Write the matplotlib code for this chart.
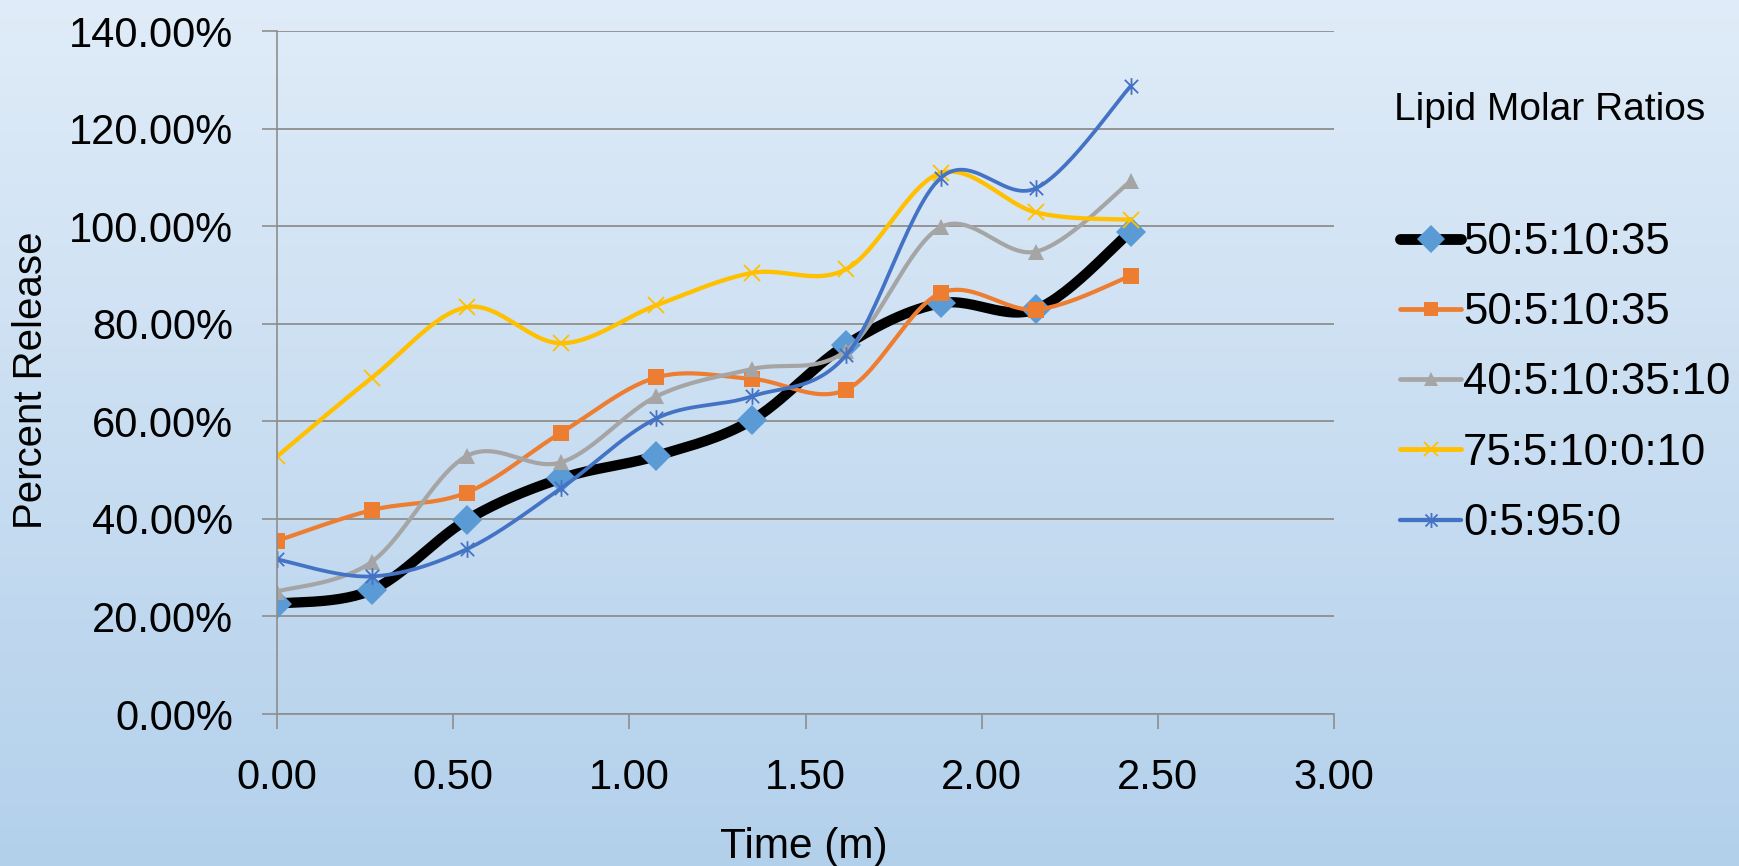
import numpy as np
import matplotlib
matplotlib.use('Agg')
import matplotlib.pyplot as plt
from matplotlib.lines import Line2D
from matplotlib.path import Path

# release data, percent of total vs. time in minutes
time_m = [0.0, 0.269, 0.539, 0.807, 1.077, 1.347, 1.616, 1.884, 2.155, 2.423]
series_labels = ['50:5:10:35', '50:5:10:35', '40:5:10:35:10', '75:5:10:0:10', '0:5:95:0']
release_a = [22.6, 25.4, 39.8, 48.3, 52.9, 60.2, 75.7, 84.2, 83.0, 98.9]
release_b = [35.5, 41.8, 45.4, 57.7, 69.0, 68.7, 66.5, 86.3, 82.9, 89.8]
release_c = [25.1, 31.2, 52.9, 51.6, 65.1, 70.7, 74.5, 99.8, 94.8, 109.2]
release_d = [52.8, 68.9, 83.4, 76.0, 83.8, 90.4, 91.2, 110.9, 102.8, 101.3]
release_e = [31.7, 28.2, 33.8, 46.3, 60.6, 65.1, 73.6, 109.9, 107.8, 128.7]
y_ticks = [0, 20, 40, 60, 80, 100, 120, 140]
x_ticks = [0.0, 0.5, 1.0, 1.5, 2.0, 2.5, 3.0]

plt.rcParams['font.family'] = ['Liberation Sans', 'DejaVu Sans']

# asterisk marker: x plus a vertical bar
star = Path([(-1, -1), (1, 1), (-1, 1), (1, -1), (0, -1.25), (0, 1.25)],
            [Path.MOVETO, Path.LINETO, Path.MOVETO, Path.LINETO, Path.MOVETO, Path.LINETO])


def smooth(x, y, steps=30):
    # cubic bezier through the points, catmull-rom style control points
    p = np.column_stack([x, y]).astype(float)
    pts = np.vstack([p[0], p, p[-1]])
    out = []
    t = np.linspace(0, 1, steps)[:, None]
    for i in range(1, len(pts) - 2):
        p0, p1, p2, p3 = pts[i - 1], pts[i], pts[i + 1], pts[i + 2]
        c1 = p1 + (p2 - p0) / 6
        c2 = p2 - (p3 - p1) / 6
        seg = (1 - t) ** 3 * p1 + 3 * (1 - t) ** 2 * t * c1 + 3 * (1 - t) * t ** 2 * c2 + t ** 3 * p2
        out.append(seg if i == 1 else seg[1:])
    s = np.vstack(out)
    return s[:, 0], s[:, 1]


styles = [
    dict(color='black', lw=7.4, marker='D', ms=15.5, mfc='#5B9BD5', mec='#5B9BD5', mew=0),
    dict(color='#ED7D31', lw=3.0, marker='s', ms=11.5, mfc='#ED7D31', mec='#ED7D31', mew=0),
    dict(color='#A5A5A5', lw=3.0, marker='^', ms=11.5, mfc='#A5A5A5', mec='#A5A5A5', mew=0),
    dict(color='#FFC000', lw=3.1, marker='x', ms=11.5, mfc='none', mec='#FFC000', mew=1.3),
    dict(color='#4472C4', lw=2.7, marker=star, ms=12, mfc='none', mec='#4472C4', mew=1.3),
]
data = [release_a, release_b, release_c, release_d, release_e]

fig = plt.figure(figsize=(17.39, 8.66), dpi=100)

# vertical gradient background
bg = fig.add_axes([0, 0, 1, 1], zorder=-10)
top = np.array([0.878, 0.925, 0.973])
bot = np.array([0.702, 0.816, 0.922])
f = np.linspace(0, 1, 256)[:, None]
grad = (top * (1 - f) + bot * f)[:, None, :]
bg.imshow(grad, aspect='auto', extent=[0, 1, 0, 1], interpolation='bilinear')
bg.axis('off')

ax = fig.add_axes([277 / 1739, 1 - 714 / 866, (1334 - 277) / 1739, (714 - 31) / 866])
ax.patch.set_alpha(0)

handles = []
for vals, st in zip(data, styles):
    xs, ys = smooth(time_m, vals)
    ax.plot(xs, ys, color=st['color'], lw=st['lw'], solid_capstyle='round')
    ax.plot(time_m, vals, ls='none', marker=st['marker'], ms=st['ms'], mfc=st['mfc'],
            mec=st['mec'], mew=st['mew'])
    handles.append(Line2D([], [], color=st['color'], lw=st['lw'] + 0.4, marker=st['marker'],
                          ms=st['ms'] * 0.9, mfc=st['mfc'], mec=st['mec'], mew=st['mew'],
                          solid_capstyle='round'))

ax.set_xlim(0, 3)
ax.set_ylim(0, 140)
ax.set_xticks(x_ticks)
ax.set_yticks(y_ticks)
ax.set_xticklabels([f'{v:.2f}' for v in x_ticks])
ax.set_yticklabels([f'{v:.2f}%' for v in y_ticks])
ax.yaxis.grid(True, color='#8e8e8e', lw=1.3)
ax.set_axisbelow(True)
for side in ['top', 'right']:
    ax.spines[side].set_visible(False)
for side in ['left', 'bottom']:
    ax.spines[side].set_color('#8e8e8e')
    ax.spines[side].set_linewidth(1.2)
ax.tick_params(axis='both', direction='out', length=10.8, width=1.2, color='#8e8e8e', labelsize=30)
ax.tick_params(axis='y', pad=21)
ax.tick_params(axis='x', pad=21)

fig.text(31 / 1739, 1 - 380 / 866, 'Percent Release', rotation=90, ha='center', va='center',
         fontsize=29)
fig.text(804 / 1739, 1 - 858 / 866, 'Time (m)', ha='center', va='baseline', fontsize=30.5)
fig.text(1394 / 1739, 1 - 120 / 866, 'Lipid Molar Ratios', ha='left', va='baseline', fontsize=28)

fig.legend(handles, series_labels, loc='upper left', bbox_to_anchor=(1400 / 1739, 1 - 222 / 866),
           frameon=False, fontsize=31.4, handlelength=1.4, handletextpad=0.05, labelspacing=0.67,
           borderpad=0, borderaxespad=0, numpoints=1)

fig.savefig('out.png', dpi=100)
